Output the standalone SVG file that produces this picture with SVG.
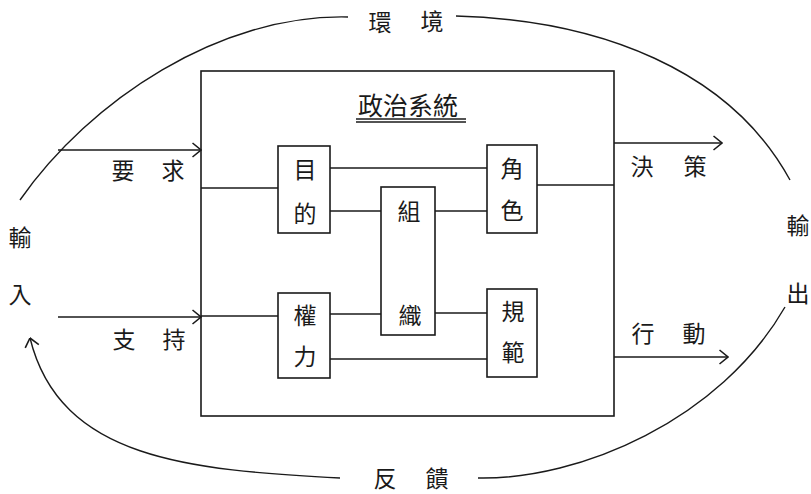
<svg xmlns="http://www.w3.org/2000/svg" width="811" height="494" viewBox="0 0 811 494">
<style>
  text { font-family: "Noto Sans CJK TC", "Noto Sans CJK SC", sans-serif; fill: #1a1a1a; text-anchor: middle; dominant-baseline: central; }
  .lbl { font-size: 23px; }
  .ttl { font-size: 25px; }
  .box { fill: none; stroke: #1a1a1a; stroke-width: 1.6; }
  .ln { fill: none; stroke: #1a1a1a; stroke-width: 1.5; }
  .cv { fill: none; stroke: #1a1a1a; stroke-width: 1.4; }
</style>
<defs>
  <marker id="arr" viewBox="0 0 10 16" refX="9.5" refY="8" markerWidth="10" markerHeight="16" markerUnits="userSpaceOnUse" orient="auto">
    <path d="M1,1 L9.5,8 L1,15" fill="none" stroke="#1a1a1a" stroke-width="1.6"/>
  </marker>
</defs>
<rect width="811" height="494" fill="#ffffff"/>

<g id="system">
  <rect class="box" x="201" y="71" width="413" height="345"/>
  <text class="ttl" x="408" y="104">政治系統</text>
  <line class="ln" x1="356" y1="119" x2="466" y2="119"/>
  <line class="ln" x1="356" y1="122" x2="466" y2="122" stroke-width="1"/>
</g>

<g id="node-mudi">
  <rect class="box" x="278" y="146" width="52" height="87"/>
  <text class="lbl" x="305" y="168">目</text>
  <text class="lbl" x="305" y="212">的</text>
</g>
<g id="node-zuzhi">
  <rect class="box" x="381" y="187" width="54" height="148"/>
  <text class="lbl" x="409" y="210">組</text>
  <text class="lbl" x="410" y="314">織</text>
</g>
<g id="node-jiaose">
  <rect class="box" x="487" y="145" width="50" height="88"/>
  <text class="lbl" x="512" y="167">角</text>
  <text class="lbl" x="512" y="209">色</text>
</g>
<g id="node-quanli">
  <rect class="box" x="278" y="293" width="52" height="85"/>
  <text class="lbl" x="305" y="314">權</text>
  <text class="lbl" x="305" y="355">力</text>
</g>
<g id="node-guifan">
  <rect class="box" x="487" y="289" width="50" height="88"/>
  <text class="lbl" x="513" y="310">規</text>
  <text class="lbl" x="513" y="351">範</text>
</g>

<g id="connectors">
  <path class="cv" d="M20,200 C90,100 220,14 348,17"/>
  <path class="cv" d="M456,16 C600,20 730,70 790,180"/>
  <path class="cv" d="M478,478 C580,480 720,420 785,307"/>
  <path class="cv" d="M340,478 C190,470 60,460 30,338" marker-end="url(#arr)"/>
  <line class="ln" x1="58" y1="150" x2="201" y2="150" marker-end="url(#arr)"/>
  <line class="ln" x1="58" y1="317" x2="201" y2="317" marker-end="url(#arr)"/>
  <line class="ln" x1="614" y1="143" x2="722" y2="143" marker-end="url(#arr)"/>
  <line class="ln" x1="614" y1="357" x2="728" y2="357" marker-end="url(#arr)"/>
  <line class="ln" x1="201" y1="188" x2="278" y2="188"/>
  <line class="ln" x1="330" y1="168" x2="487" y2="168"/>
  <line class="ln" x1="330" y1="211" x2="381" y2="211"/>
  <line class="ln" x1="435" y1="211" x2="487" y2="211"/>
  <line class="ln" x1="537" y1="185" x2="614" y2="185"/>
  <line class="ln" x1="201" y1="316" x2="278" y2="316"/>
  <line class="ln" x1="330" y1="314" x2="381" y2="314"/>
  <line class="ln" x1="435" y1="313" x2="487" y2="313"/>
  <line class="ln" x1="330" y1="359" x2="487" y2="359"/>
</g>

<g id="labels">
  <text class="lbl" x="380" y="21">環</text>
  <text class="lbl" x="432" y="20">境</text>
  <text class="lbl" x="20" y="236">輸</text>
  <text class="lbl" x="20" y="293">入</text>
  <text class="lbl" x="798" y="224">輸</text>
  <text class="lbl" x="798" y="292">出</text>
  <text class="lbl" x="123" y="169">要</text>
  <text class="lbl" x="173" y="169">求</text>
  <text class="lbl" x="124" y="338">支</text>
  <text class="lbl" x="174" y="338">持</text>
  <text class="lbl" x="642" y="165">決</text>
  <text class="lbl" x="695" y="165">策</text>
  <text class="lbl" x="643" y="332">行</text>
  <text class="lbl" x="694" y="332">動</text>
  <text class="lbl" x="385" y="477" font-size="22">反</text>
  <text class="lbl" x="437" y="477" font-size="22">饋</text>
</g>
</svg>
